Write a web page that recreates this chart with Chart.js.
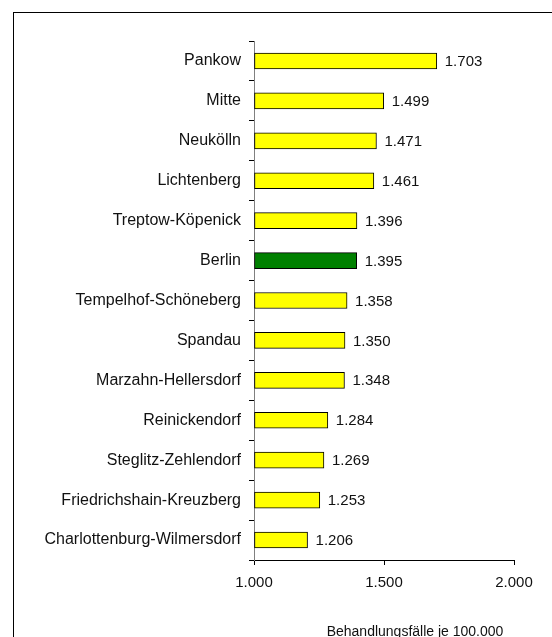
<!DOCTYPE html>
<html>
<head>
<meta charset="utf-8">
<script src="https://cdn.jsdelivr.net/npm/chart.js@4"></script>
<style>
  html, body { margin: 0; padding: 0; background: #fff; overflow: hidden; }
  #wrap { position: relative; width: 552px; height: 637px; }
  #frame { position: absolute; left: 13px; top: 12px; width: 600px; height: 700px; border: 1px solid #000; pointer-events: none; }
  canvas { position: absolute; left: 0; top: 0; }
</style>
</head>
<body>
<div id="wrap">
  <canvas id="chart" width="552" height="637"></canvas>
  <div id="frame"></div>
</div>
<script>
const districts = ["Pankow", "Mitte", "Neukölln", "Lichtenberg", "Treptow-Köpenick", "Berlin",
    "Tempelhof-Schöneberg", "Spandau", "Marzahn-Hellersdorf", "Reinickendorf",
    "Steglitz-Zehlendorf", "Friedrichshain-Kreuzberg", "Charlottenburg-Wilmersdorf"];
const cases = [1703, 1499, 1471, 1461, 1396, 1395, 1358, 1350, 1348, 1284, 1269, 1253, 1206];
const xTicks = [1000, 1500, 2000];
const axisTitle = "Behandlungsfälle je 100.000";

// German thousands separator, e.g. 1.703
function fmt(v) {
    return String(Math.round(v)).replace(/\B(?=(\d{3})+(?!\d))/g, ".");
}

const barColors = districts.map(d => d === "Berlin" ? "#008000" : "#ffff00");

// value labels right of the bars
const valueLabels = {
    id: "valueLabels",
    afterDatasetsDraw(chart) {
        const ctx = chart.ctx;
        const meta = chart.getDatasetMeta(0);
        ctx.save();
        ctx.font = "15px Arial, 'Liberation Sans', sans-serif";
        ctx.fillStyle = "#111";
        ctx.textAlign = "left";
        ctx.textBaseline = "middle";
        meta.data.forEach((bar, i) => {
            ctx.fillText(fmt(cases[i]), bar.x + 8, bar.y + 1);
        });
        ctx.restore();
    }
};

// x axis title, sits right of the axis centre like the original
const bottomTitle = {
    id: "bottomTitle",
    afterDraw(chart) {
        const ctx = chart.ctx;
        const area = chart.chartArea;
        ctx.save();
        ctx.font = "14px Arial, 'Liberation Sans', sans-serif";
        ctx.fillStyle = "#111";
        ctx.textAlign = "center";
        ctx.textBaseline = "middle";
        ctx.fillText(axisTitle, (area.left + area.right) / 2 + 31, 632);
        ctx.restore();
    }
};

const ctx = document.getElementById("chart").getContext("2d");
new Chart(ctx, {
    type: "bar",
    data: {
        labels: districts,
        datasets: [{
            data: cases,
            base: xTicks[0],
            backgroundColor: barColors,
            borderColor: "#000",
            borderWidth: 1,
            borderSkipped: false,
            barThickness: 16
        }]
    },
    options: {
        indexAxis: "y",
        responsive: false,
        animation: false,
        devicePixelRatio: 1,
        layout: { padding: { top: 41, right: 38, left: 0, bottom: 0 } },
        plugins: {
            legend: { display: false },
            tooltip: { enabled: false }
        },
        scales: {
            x: {
                min: xTicks[0],
                max: xTicks[xTicks.length - 1],
                afterBuildTicks: scale => { scale.ticks = xTicks.map(v => ({ value: v })); },
                afterFit: scale => { scale.height = 77; },
                border: { display: true, color: "#000", width: 1 },
                grid: { drawOnChartArea: false, drawTicks: true, tickLength: 5, color: "#000" },
                ticks: {
                    padding: 9,
                    color: "#111",
                    font: { family: "Arial, 'Liberation Sans', sans-serif", size: 15 },
                    callback: v => fmt(v)
                }
            },
            y: {
                afterFit: scale => { scale.width = 254; },
                border: { display: true, color: "#808080", width: 1 },
                grid: { drawOnChartArea: false, drawTicks: true, tickLength: 5, color: "#000", offset: true },
                ticks: {
                    padding: 8,
                    color: "#111",
                    autoSkip: false,
                    font: { family: "Arial, 'Liberation Sans', sans-serif", size: 16 }
                }
            }
        }
    },
    plugins: [valueLabels, bottomTitle]
});
</script>
</body>
</html>
